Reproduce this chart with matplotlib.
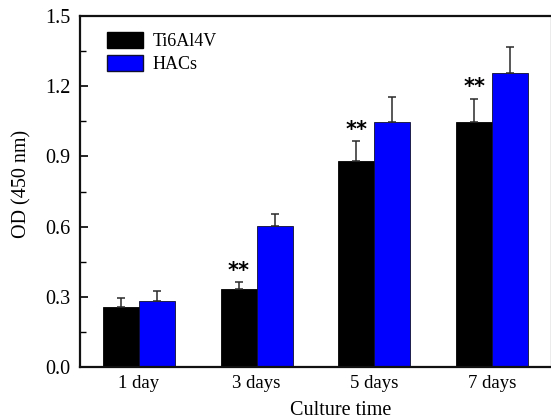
import matplotlib
matplotlib.use("Agg")
import matplotlib.pyplot as plt
import numpy as np
from matplotlib.patches import Patch

categories = ["1 day", "3 days", "5 days", "7 days"]
ti_values = [0.258, 0.335, 0.882, 1.048]
ti_errors = [0.037, 0.027, 0.083, 0.099]
hac_values = [0.283, 0.601, 1.047, 1.255]
hac_errors = [0.040, 0.051, 0.108, 0.111]
significant = [False, True, True, True]
series_names = ["Ti6Al4V", "HACs"]
yticks = [0.0, 0.3, 0.6, 0.9, 1.2, 1.5]

plt.rcParams['font.family'] = ['Liberation Serif', 'DejaVu Serif']

fig = plt.figure(figsize=(5.51, 4.19), dpi=100)
ax = fig.add_axes([80/551, 1 - 367/419, 1 - 80/551, (367 - 16)/419])

x = np.arange(len(categories))
w = 0.305
ekw = dict(ecolor='#2a2a2a', elinewidth=1.1, capsize=3, capthick=1.1)
ax.bar(x - w/2, ti_values, w, color='black', edgecolor='black', linewidth=0.6,
       yerr=[np.zeros(len(ti_errors)), ti_errors], error_kw=ekw, zorder=2)
ax.bar(x + w/2, hac_values, w, color='#0000ff', edgecolor='#101030', linewidth=0.6,
       yerr=[np.zeros(len(hac_errors)), hac_errors], error_kw=ekw, zorder=2)

for i, sig in enumerate(significant):
    if sig:
        ax.annotate("**", xy=(x[i] - w/2, ti_values[i] + ti_errors[i]),
                    xytext=(0, 1), textcoords='offset points', ha='center', va='bottom',
                    fontsize=15, fontweight='bold', family='DejaVu Sans')

ax.set_xlim(-0.5, 3.5)
ax.set_ylim(0, 1.5)
ax.set_xticks(x)
ax.set_xticklabels(categories, fontsize=13.5)
ax.set_yticks(yticks)
ax.set_yticklabels([f"{v:.1f}" for v in yticks], fontsize=14.5)
ax.set_yticks(np.arange(0.15, 1.5, 0.3), minor=True)
ax.tick_params(axis='y', which='major', direction='in', length=6, width=1.2, pad=7)
ax.tick_params(axis='y', which='minor', direction='in', length=4, width=1.0)
ax.tick_params(axis='x', which='both', length=0, pad=6)

for s in ['left', 'bottom', 'top']:
    ax.spines[s].set_linewidth(1.6)
    ax.spines[s].set_color('#111111')
ax.spines['right'].set_linewidth(1.0)
ax.spines['right'].set_color('#999999')

ax.set_ylabel("OD (450 nm)", fontsize=14.5)
ax.yaxis.set_label_coords(-0.124, (367 - 184) / 351)
ax.yaxis.label.set_va('center')
ax.set_xlabel("Culture time", fontsize=14.5)
ax.xaxis.set_label_coords(0.554, (367 - 410) / 351)
ax.xaxis.label.set_va('center')

handles = [Patch(facecolor='black', edgecolor='black'),
           Patch(facecolor='#0000ff', edgecolor='#101030')]
ax.legend(handles, series_names, loc='upper left', bbox_to_anchor=(0.035, 0.985),
          frameon=False, fontsize=13, handlelength=2.0, handleheight=1.0,
          handletextpad=0.5, labelspacing=0.25, borderaxespad=0.2)

fig.savefig("out.png", dpi=100)
